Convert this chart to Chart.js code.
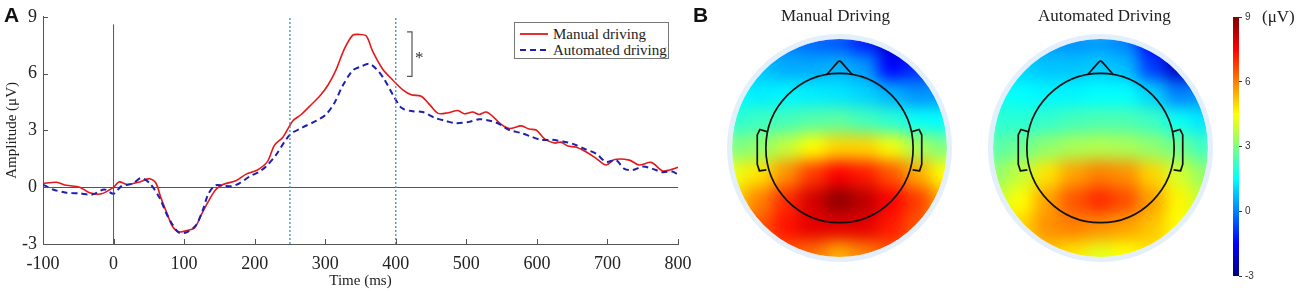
<!DOCTYPE html>
<html>
<head>
<meta charset="utf-8">
<script src="https://cdn.jsdelivr.net/npm/chart.js@4.4.0/dist/chart.umd.min.js"></script>
<style>
  body { margin: 0; background: #fff; }
  #wrap { position: relative; width: 1300px; height: 291px; overflow: hidden; font-family: "Liberation Serif", serif; color: #222; }
  canvas { position: absolute; }
  .lbl { position: absolute; white-space: nowrap; line-height: 1; }
  #legend { position: absolute; left: 514px; top: 22px; width: 153px; height: 35px; border: 1px solid #777; background: #fff; font-size: 15px; }
  #legend .row { position: absolute; left: 5px; height: 16px; display: flex; align-items: center; }
  #legend svg { margin-right: 5px; }
</style>
</head>
<body>
<div id="wrap">
  <canvas id="erp" width="700" height="291" style="left:0;top:0"></canvas>
  <canvas id="topoManual" width="232" height="270" style="left:724px;top:0"></canvas>
  <canvas id="topoAuto" width="232" height="270" style="left:985px;top:0"></canvas>
  <canvas id="cbar" width="60" height="291" style="left:1233px;top:0"></canvas>

  <div class="lbl" style="left:4px;top:3px;font:bold 21px 'Liberation Sans',sans-serif;color:#111">A</div>
  <div class="lbl" style="left:693px;top:3px;font:bold 21px 'Liberation Sans',sans-serif;color:#111">B</div>
  <div class="lbl" style="left:781px;top:7px;font-size:17px">Manual Driving</div>
  <div class="lbl" style="left:1038px;top:7px;font-size:17px">Automated Driving</div>
  <div class="lbl" style="left:1262px;top:8px;font-size:17px">(μV)</div>

  <div id="legend">
    <div class="row" style="top:3px">
      <svg width="28" height="4"><line x1="0" y1="2" x2="28" y2="2" stroke="#e3191c" stroke-width="1.8"/></svg>
      <span>Manual driving</span>
    </div>
    <div class="row" style="top:19px">
      <svg width="28" height="4"><line x1="0" y1="2" x2="28" y2="2" stroke="#1f1fb0" stroke-width="2" stroke-dasharray="6,4"/></svg>
      <span>Automated driving</span>
    </div>
  </div>
</div>

<script>
// ---- panel A: ERP waveforms (time in ms, amplitude in µV) ----
const manualTime = [-100, -81, -67, -48, -34, -17, 0, 8, 20, 37, 51, 60, 67, 77, 84, 93, 105, 115, 126, 136,
  145, 155, 174, 188, 204, 218, 228, 240, 254, 266, 278, 292, 304, 315, 327, 339, 347, 358, 367, 381,
  396, 410, 422, 436, 448, 460, 474, 488, 497, 509, 518, 528, 537, 549, 561, 578, 589, 599, 611, 625,
  634, 644, 655, 670, 684, 698, 710, 731, 745, 762, 778, 788, 800];
const manualAmp = [0.19, 0.26, 0.10, 0.0, -0.29, -0.35, 0.0, 0.28, 0.14, 0.28, 0.45, 0.22, -0.55, -1.5, -2.1, -2.36, -2.28, -2.14, -1.33, -0.64,
  -0.12, 0.14, 0.35, 0.69, 0.91, 1.35, 2.21, 2.64, 3.5, 3.84, 4.28, 4.8, 5.4, 6.17, 7.29, 8.03, 8.07, 8.0, 7.2, 6.26,
  5.65, 5.14, 4.88, 4.8, 4.36, 3.9, 3.93, 4.05, 3.88, 3.97, 3.84, 3.97, 3.76, 3.33, 3.1, 3.24, 3.07, 3.02, 2.55, 2.33,
  2.38, 2.17, 2.12, 1.86, 1.52, 1.17, 1.46, 1.43, 1.17, 1.31, 0.86, 0.91, 1.05];

const autoTime = [-100, -86, -67, -48, -30, -13, 0, 11, 27, 39, 51, 65, 75, 84, 93, 105, 117, 127, 134, 144,
  155, 167, 179, 193, 207, 216, 230, 242, 251, 268, 287, 301, 313, 324, 339, 351, 362, 372, 383, 396,
  408, 422, 438, 455, 471, 485, 504, 518, 535, 547, 561, 578, 592, 606, 622, 637, 651, 667, 684, 698,
  712, 724, 736, 750, 764, 778, 792, 800];
const autoAmp = [0.14, -0.12, -0.29, -0.33, -0.38, -0.12, -0.35, 0.05, 0.19, 0.48, 0.22, -0.55, -1.4, -2.0, -2.41, -2.36, -2.0, -1.16, -0.38, 0.09,
  0.09, 0.05, 0.22, 0.57, 0.83, 1.09, 1.69, 2.38, 2.81, 3.16, 3.5, 3.84, 4.45, 5.31, 6.17, 6.38, 6.52, 6.26, 5.74, 4.88,
  4.19, 4.02, 3.97, 3.67, 3.5, 3.38, 3.45, 3.59, 3.5, 3.33, 3.02, 2.86, 2.67, 2.5, 2.5, 2.41, 2.29, 2.03, 1.77, 1.34,
  1.43, 0.97, 0.91, 1.09, 0.97, 0.79, 0.83, 0.66];

const windowEdges = [250, 400];          // dotted analysis window
const bracketTime = [416, 423];          // significance bracket (ms)
const bracketAmp = [8.2, 5.85];          // top / bottom (µV)
const xTicks = [-100, 0, 100, 200, 300, 400, 500, 600, 700, 800];
const yTicks = [-3, 0, 3, 6, 9];

// ---- panel B: scalp maps, 9x9 grid, rows front(top) -> back(bottom), µV ----
const gridPos = [-0.978, -0.733, -0.489, -0.244, 0, 0.244, 0.489, 0.733, 0.978];
const manualTopo = [
  [0.5, 0.3, 0.0, -0.3, -0.5, -1.2, -2.2, -2.5, -2.5],
  [1.0, 0.8, 0.5, 0.5, 0.6, 0.3, -1.5, -1.0, -0.5],
  [1.5, 1.3, 1.4, 1.3, 1.2, 1.0, 0.6, 0.2, 0.3],
  [2.0, 2.2, 2.3, 2.5, 2.6, 2.3, 2.0, 1.6, 1.5],
  [3.0, 3.2, 3.8, 4.5, 5.0, 5.0, 4.4, 3.5, 3.0],
  [4.3, 4.8, 5.8, 6.8, 7.5, 7.2, 6.5, 5.5, 4.5],
  [5.0, 6.0, 7.0, 8.0, 8.8, 8.3, 7.5, 6.8, 5.5],
  [5.5, 6.5, 7.3, 7.8, 7.8, 7.8, 7.2, 6.5, 5.5],
  [5.5, 6.0, 6.5, 6.2, 5.5, 6.0, 6.5, 6.0, 5.0]
];
const autoTopo = [
  [0.8, 0.5, 0.3, 0.2, 0.3, 0.0, -1.5, -2.5, -2.5],
  [1.2, 1.0, 0.8, 0.8, 0.9, 0.7, -0.8, -2.2, -1.5],
  [1.6, 1.5, 1.4, 1.4, 1.5, 1.5, 1.0, 0.0, 0.2],
  [2.0, 2.0, 2.1, 2.3, 2.4, 2.4, 2.2, 1.6, 1.2],
  [2.5, 2.8, 3.2, 3.5, 3.6, 3.5, 3.2, 2.8, 2.2],
  [3.2, 3.8, 4.8, 5.6, 6.0, 5.8, 5.0, 4.0, 3.2],
  [3.8, 4.5, 5.6, 6.5, 7.0, 6.6, 5.6, 4.6, 3.8],
  [4.2, 5.0, 5.8, 6.0, 5.8, 5.6, 5.2, 4.5, 4.0],
  [4.5, 5.0, 5.2, 4.8, 4.2, 4.5, 4.8, 4.5, 4.0]
];
const cbarMin = -3, cbarMax = 9;
const cbarTicks = [-3, 0, 3, 6, 9];

// jet colormap
function jet(v) {
  const f = Math.min(1, Math.max(0, (v - cbarMin) / (cbarMax - cbarMin)));
  const c = k => Math.round(255 * Math.min(1, Math.max(0, 1.5 - Math.abs(4 * f - k))));
  return `rgb(${c(3)},${c(2)},${c(1)})`;
}

const serif = 'Liberation Serif';

// small inward tick marks like the original figure
const inwardTicks = {
  id: 'inwardTicks',
  afterDatasetsDraw(chart) {
    const { ctx, chartArea: a, scales: { x, y } } = chart;
    ctx.save();
    ctx.strokeStyle = '#555';
    ctx.lineWidth = 1;
    ctx.beginPath();
    x.ticks.forEach(t => {
      const px = Math.round(x.getPixelForValue(t.value)) + 0.5;
      ctx.moveTo(px, a.bottom); ctx.lineTo(px, a.bottom - 5);
    });
    y.ticks.forEach(t => {
      const py = Math.round(y.getPixelForValue(t.value)) + 0.5;
      ctx.moveTo(a.left, py); ctx.lineTo(a.left + 5, py);
    });
    ctx.stroke();
    // star next to the bracket
    ctx.fillStyle = '#333';
    ctx.font = `17px "${serif}"`;
    ctx.textBaseline = 'middle';
    ctx.fillText('*', x.getPixelForValue(bracketTime[1]) + 3, y.getPixelForValue((bracketAmp[0] + bracketAmp[1]) / 2) + 4);
    ctx.restore();
  }
};

const toPts = (ts, vs) => ts.map((t, i) => ({ x: t, y: vs[i] }));
const guide = { pointRadius: 0, tension: 0, fill: false };

new Chart(document.getElementById('erp'), {
  type: 'line',
  data: {
    datasets: [
      { ...guide, data: [{ x: 0, y: -3 }, { x: 0, y: 8.6 }], borderColor: '#555', borderWidth: 1 },
      { ...guide, data: [{ x: windowEdges[0], y: -3 }, { x: windowEdges[0], y: 9 }], borderColor: '#3d8fc2', borderWidth: 1.3, borderDash: [2, 2] },
      { ...guide, data: [{ x: windowEdges[1], y: -3 }, { x: windowEdges[1], y: 9 }], borderColor: '#3d8fc2', borderWidth: 1.3, borderDash: [2, 2] },
      { ...guide, data: [{ x: bracketTime[0], y: bracketAmp[0] }, { x: bracketTime[1], y: bracketAmp[0] }, { x: bracketTime[1], y: bracketAmp[1] }, { x: bracketTime[0], y: bracketAmp[1] }], borderColor: '#555', borderWidth: 1.2 },
      { label: 'Automated driving', data: toPts(autoTime, autoAmp), borderColor: '#1f1fb0', borderWidth: 2, borderDash: [6, 4], pointRadius: 0, tension: 0.3 },
      { label: 'Manual driving', data: toPts(manualTime, manualAmp), borderColor: '#e3191c', borderWidth: 1.6, pointRadius: 0, tension: 0.3 }
    ]
  },
  options: {
    responsive: false,
    animation: false,
    layout: { padding: { top: 12, right: 22, left: 0, bottom: 0 } },
    scales: {
      x: {
        type: 'linear', min: -100, max: 800,
        afterBuildTicks: s => { s.ticks = xTicks.map(v => ({ value: v })); },
        afterFit: s => { s.height = 47; },
        grid: { display: false },
        border: { color: '#555' },
        ticks: { padding: 1, color: '#222', font: { family: serif, size: 18 } },
        title: { display: true, text: 'Time (ms)', color: '#222', font: { family: serif, size: 15 }, padding: { top: 0, bottom: 1 } }
      },
      y: {
        min: -3, max: 9,
        afterBuildTicks: s => { s.ticks = yTicks.map(v => ({ value: v })); },
        afterFit: s => { s.width = 43; },
        grid: { drawTicks: false, color: c => (c.tick && c.tick.value === 0 ? '#555' : 'rgba(0,0,0,0)') },
        border: { color: '#555' },
        ticks: { padding: 6, color: '#222', font: { family: serif, size: 18 } },
        title: { display: true, text: 'Amplitude (μV)', color: '#222', font: { family: serif, size: 15 }, padding: { top: 3, bottom: 0 } }
      }
    },
    plugins: { legend: { display: false }, tooltip: { enabled: false } }
  },
  plugins: [inwardTicks]
});

// ---- scalp maps ----
const headR = 0.685;
const earPath = [[-0.675, 0.15], [-0.74, 0.17], [-0.765, 0.12], [-0.765, -0.15], [-0.745, -0.21], [-0.68, -0.2]];

const scalpPlugin = {
  id: 'scalp',
  afterDatasetsDraw(chart) {
    const { ctx, canvas, scales: { x, y } } = chart;
    const dpr = chart.currentDevicePixelRatio || 1;
    const cx = x.getPixelForValue(0), cy = y.getPixelForValue(0);
    const rx = x.getPixelForValue(1) - cx, ry = cy - y.getPixelForValue(1);
    const px = v => x.getPixelForValue(v), py = v => y.getPixelForValue(v);

    // smooth the grid cells and keep them inside the disc
    const off = document.createElement('canvas');
    off.width = canvas.width; off.height = canvas.height;
    off.getContext('2d').drawImage(canvas, 0, 0);
    ctx.save();
    ctx.setTransform(1, 0, 0, 1, 0, 0);
    ctx.clearRect(0, 0, canvas.width, canvas.height);
    ctx.restore();
    ctx.save();
    ctx.beginPath();
    ctx.ellipse(cx, cy, rx, ry, 0, 0, Math.PI * 2);
    ctx.clip();
    ctx.filter = 'blur(8px)';
    ctx.drawImage(off, 0, 0, canvas.width / dpr, canvas.height / dpr);
    ctx.restore();

    // pale halo
    ctx.save();
    ctx.strokeStyle = 'rgba(215,232,248,0.7)';
    ctx.lineWidth = 5;
    ctx.beginPath();
    ctx.ellipse(cx, cy, rx + 2.5, ry + 2.5, 0, 0, Math.PI * 2);
    ctx.stroke();

    // head outline, nose and ears
    ctx.strokeStyle = '#111';
    ctx.lineWidth = 1.7;
    ctx.lineJoin = 'round';
    ctx.beginPath();
    ctx.ellipse(cx, cy, rx * headR, ry * headR, 0, 0, Math.PI * 2);
    ctx.stroke();
    ctx.beginPath();
    ctx.moveTo(px(-0.12), py(0.672));
    ctx.lineTo(px(-0.015), py(0.79));
    ctx.quadraticCurveTo(px(0), py(0.805), px(0.015), py(0.79));
    ctx.lineTo(px(0.12), py(0.672));
    ctx.stroke();
    [-1, 1].forEach(side => {
      ctx.beginPath();
      earPath.forEach(([ex, ey], i) => {
        const X = px(ex * side), Y = py(ey);
        if (i === 0) ctx.moveTo(X, Y); else ctx.lineTo(X, Y);
      });
      ctx.stroke();
    });
    ctx.restore();
  }
};

function scalpMap(id, grid) {
  const pts = [];
  grid.forEach((row, r) => row.forEach((v, c) => pts.push({ x: gridPos[c], y: -gridPos[r], v })));
  new Chart(document.getElementById(id), {
    type: 'scatter',
    data: {
      datasets: [{
        data: pts,
        clip: false,
        pointStyle: 'rect',
        pointBorderWidth: 0,
        pointRadius: ctx => {
          const sx = ctx.chart.scales.x;
          const cell = Math.abs(sx.getPixelForValue(gridPos[1]) - sx.getPixelForValue(gridPos[0]));
          return (cell / 2) / Math.SQRT1_2 + 1.5;
        },
        pointBackgroundColor: ctx => jet(ctx.raw ? ctx.raw.v : 0)
      }]
    },
    options: {
      responsive: false,
      animation: false,
      layout: { padding: { left: 8, right: 9, top: 39, bottom: 13 } },
      scales: {
        x: { type: 'linear', min: -1, max: 1, display: false },
        y: { type: 'linear', min: -1, max: 1, display: false }
      },
      plugins: { legend: { display: false }, tooltip: { enabled: false } }
    },
    plugins: [scalpPlugin]
  });
}
scalpMap('topoManual', manualTopo);
scalpMap('topoAuto', autoTopo);

// ---- colour bar ----
new Chart(document.getElementById('cbar'), {
  type: 'bar',
  data: {
    labels: [''],
    datasets: [{
      data: [[cbarMin, cbarMax]],
      barPercentage: 1,
      categoryPercentage: 1,
      borderWidth: 0,
      backgroundColor: ctx => {
        const { chart } = ctx;
        const ys = chart.scales.y;
        if (!chart.chartArea || !ys) return '#888';
        const g = chart.ctx.createLinearGradient(0, ys.getPixelForValue(cbarMin), 0, ys.getPixelForValue(cbarMax));
        for (let i = 0; i <= 24; i++) {
          g.addColorStop(i / 24, jet(cbarMin + (cbarMax - cbarMin) * i / 24));
        }
        return g;
      }
    }]
  },
  options: {
    responsive: false,
    animation: false,
    layout: { padding: { top: 17, bottom: 15, left: 0, right: 0 } },
    scales: {
      x: { display: false },
      y: {
        position: 'right', min: cbarMin, max: cbarMax,
        afterBuildTicks: s => { s.ticks = cbarTicks.map(v => ({ value: v })); },
        afterFit: s => { s.width = 54; },
        grid: { drawOnChartArea: false, tickLength: 3, color: '#333' },
        border: { display: false },
        ticks: { padding: 3, color: '#333', font: { family: 'Liberation Sans', size: 10 } }
      }
    },
    plugins: { legend: { display: false }, tooltip: { enabled: false } }
  }
});
</script>
</body>
</html>
